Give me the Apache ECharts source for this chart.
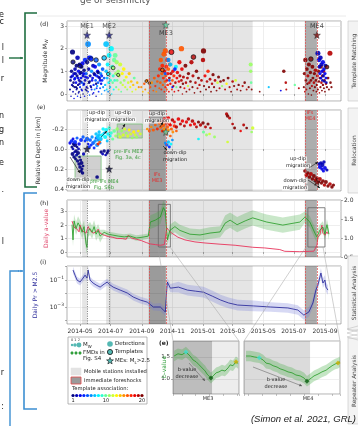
<!DOCTYPE html>
<html><head><meta charset="utf-8">
<script src="https://cdn.jsdelivr.net/npm/echarts@6/dist/echarts.min.js"></script>
<style>html,body{margin:0;padding:0;background:#fff}#c{width:358px;height:426px}</style>
</head><body><div id="c"></div>
<script>
// ---- time axis (days since 2014-01-01) ----
const dayMin = 94, dayMax = 640;
const monthTicks = [120, 181, 243, 304, 365, 424, 485, 546, 608];
const monthLabels = ['2014-05', '2014-07', '2014-09', '2014-11', '2015-01', '2015-03', '2015-05', '2015-07', '2015-09'];

// main events
const meNames = ['ME1', 'ME2', 'ME3', 'ME4'];
const meDays = [134, 178, 291, 592];
const meMags = [2.6, 2.6, 3.05, 2.6];
const meDepths = [0.0, 0.2, -0.17, 0.33];
const meColors = ['#1b1b8a', '#1b1b8a', '#63d9a8', '#7a0a0a'];

// observation windows
const mobileWindows = [[124, 134], [172, 464]];
const foreshockWindows = [[257, 291], [568, 592]];

// ---- detections: [day, magnitude, template] ----
const quakesSpring2014 = [
  [100,0.2,1],[101,0.6,1],[102,-0.1,2],[103,1.0,1],[104,0.4,2],[105,1.85,1],[105,0.8,3],[106,0.1,2],[107,0.5,1],[108,0.9,2],
  [108,-0.2,3],[109,0.3,1],[110,1.1,2],[110,0.7,4],[111,0.0,1],[112,0.5,3],[113,1.25,1],[113,0.2,2],[114,0.8,1],[115,1.6,2],
  [115,-0.1,4],[116,0.4,1],[117,1.0,3],[118,0.6,2],[118,0.1,1],[119,1.3,1],[120,0.3,4],[120,0.9,2],[121,-0.15,1],[122,0.7,3],
  [123,1.2,1],[123,0.2,2],[124,0.5,5],[125,1.35,3],[126,0.0,1],[126,0.8,2],[127,0.4,4],[128,1.05,1],[129,-0.1,3],[130,0.6,2],
  [130,1.5,4],[131,0.2,1],[132,0.9,5],[133,0.3,2],[134,1.4,1],[136,2.2,6],[135,0.7,3],[136,0.1,4],[137,1.1,2],[138,0.5,1],
  [138,1.6,3],[139,-0.05,5],[140,0.8,2],[141,1.6,4],[142,0.3,1],[143,1.0,6],[144,0.6,3],[145,0.0,2],[146,1.25,2],[147,0.4,4],
  [148,0.9,1],[149,0.2,6],[150,1.2,3],[151,0.6,5],[152,-0.1,2],[153,0.8,4],[154,0.35,6],[155,1.0,3],[156,0.5,5],[157,0.1,4],
  [158,1.3,6],[159,0.7,2],[160,0.25,5],[161,0.9,6],[162,0.45,3],[163,0.0,6],[164,0.6,4],[165,1.1,5],[166,0.3,6],[168,0.7,5],
  [169,0.15,6],[112,0.3,1],[117,0.05,2],[121,0.55,1],[127,0.9,3],[133,0.15,1],[141,0.35,2],[147,0.05,3],[152,0.45,1],[157,0.75,2],
  [102,0.75,2],[106,0.35,1],[109,0.65,3],[111,0.9,2],[114,0.25,1],[116,0.7,3],[119,0.45,2],[122,0.95,1],[124,0.15,3],[128,0.45,2],
  [131,0.75,3],[135,0.25,2],[139,0.55,1],[143,0.2,4],[145,0.7,3],[149,0.85,2],[153,0.25,4],[156,0.95,1],[160,0.6,3],[163,0.8,4]
];
const quakesSummer2014 = [
  [170,0.4,7],[172,2.2,7],[172,1.0,7],[173,0.2,8],[174,0.7,7],[175,1.3,8],[176,0.1,6],[177,0.5,8],[178,1.7,8],[179,0.9,9],
  [180,0.3,7],[181,0.6,9],[182,2.0,8],[183,0.0,8],[184,1.2,9],[185,0.5,10],[186,0.8,9],[187,0.2,8],[188,1.5,10],[189,0.6,9],
  [190,1.7,10],[191,0.9,11],[192,0.3,10],[193,1.4,11],[194,0.6,10],[196,1.0,11],[197,0.2,12],[198,0.8,12],[200,1.3,12],[201,0.5,11],
  [202,0.1,10],[204,0.9,13],[205,0.4,12],[207,1.1,13],[208,0.6,11],[210,0.3,12],[212,0.75,13],[214,0.2,11],[216,0.5,12],[218,0.9,14],
  [220,0.3,13],[222,0.55,14],[224,0.1,12],[226,0.4,14],[228,0.7,10],[231,0.2,13],[234,0.5,14],[237,0.3,15]
];
const quakesAutumn2014 = [
  [242,0.3,15],[245,0.1,14],[248,0.45,16],[250,0.2,15],[254,0.6,16],[256,0.05,14],[260,0.3,16],[263,0.5,15],[266,0.15,16],[268,0.7,16],
  [270,0.35,17],[272,0.1,15],[274,0.55,16],[276,0.8,17],[278,0.25,16],[279,1.1,17],[280,0.5,16],[281,1.5,16],[282,0.2,17],[283,0.9,16],
  [284,1.25,17],[285,0.4,16],[286,0.7,17],[287,1.75,16],[288,0.1,17],[288,1.0,18],[289,0.55,16],[290,1.9,16],[290,0.3,17],[291,0.8,16]
];
const quakesWinter = [
  [292,1.2,17],[293,0.6,18],[293,0.2,16],[294,1.5,17],[295,0.9,18],[295,0.4,17],[296,1.1,16],[297,0.1,18],[298,0.7,19],[299,1.3,17],
  [300,0.45,18],[301,0.9,19],[303,0.2,17],[304,0.6,16],[305,1.0,18],[306,0.35,19],[307,0.8,17],[308,0.1,18],[310,0.5,19],[311,1.2,8],
  [312,0.3,10],[313,0.7,18],[314,0.95,18],[316,0.15,19],[317,0.55,18],[318,1.4,18],[319,0.8,19],[320,0.3,20],[322,2.0,16],[322,0.6,19],
  [323,1.1,18],[324,0.0,19],[325,0.45,20],[326,0.75,19],[328,0.25,18],[330,1.25,20],[331,0.5,19],[332,0.1,20],[334,0.7,19],[335,0.35,12],
  [336,0.9,20],[338,0.2,19],[340,0.55,20],[342,1.4,19],[344,0.3,20],[345,0.8,19],[348,0.05,20],[350,0.5,19],[352,1.0,20],[354,0.25,19],
  [356,0.7,20],[358,0.4,19],[360,0.1,20],[362,0.6,19],[366,1.9,20],[365,1.5,19],[367,0.35,20],[369,0.8,18],[371,0.2,20],[373,0.55,19],
  [375,1.0,17],[377,0.3,20],[379,0.65,19],[381,0.1,20],[383,0.45,19],[385,0.85,20],[387,0.3,20],[389,0.6,19],[392,0.15,20],[394,0.5,12],
  [396,0.75,20],[398,0.25,19],[400,0.55,20],[403,0.35,11],[406,0.6,20],[409,0.2,19],[412,0.45,13],[415,0.7,20],[418,0.3,19],[421,0.1,20],
  [424,0.55,19],[427,0.35,20],[430,0.6,12],[433,0.2,19],[436,0.4,20],[440,0.15,20],[444,0.35,19],[448,0.5,20],[452,0.2,19],[456,0.3,20],
  [460,1.3,11],[460,1.0,11],[461,0.5,10],[462,0.2,20],[296,1.5,6],[300,1.3,7],[309,1.1,4],[298,0.6,5],[304,0.3,3],[290,0.9,5]
];
const quakesSpring2015 = [
  [478,0.1,20],[496,0.3,7],[520,0.15,3],[526,1.0,20],[530,0.5,19],[531,0.2,19],[548,0.4,10],[556,0.25,19]
];
const quakesMe4 = [
  [566,0.3,20],[567,0.9,20],[568,0.1,19],[569,1.5,20],[570,0.6,20],[571,0.2,19],[572,1.1,20],[573,0.45,20],[574,0.8,19],[575,0.0,20],
  [576,1.3,20],[577,0.5,19],[578,0.25,20],[579,0.95,20],[580,0.6,20],[581,-0.05,20],[582,0.35,19],[583,1.2,20],[584,0.7,20],[585,0.15,20],
  [586,0.5,19],[587,0.9,20],[588,0.3,20],[589,1.05,19],[590,0.6,20],[591,0.1,20],[592,0.4,20],[593,0.8,19],[594,0.2,20],[595,1.0,20],
  [596,0.55,20],[597,0.05,19],[598,0.7,20],[599,0.3,20],[600,1.2,20],[601,0.5,19],[602,0.15,20],[603,0.8,20],[604,0.4,20],[605,1.0,19],
  [606,0.25,20],[607,0.6,20],[608,0.1,20],[610,0.45,19],[612,0.3,20],[614,0.7,20],[616,0.2,20],[618,1.8,19],[619,0.5,20],[621,0.3,20],
  [594,1.8,2],[596,1.5,3],[597,1.2,2],[598,0.9,3],[599,1.6,2],[600,0.7,3],[601,1.3,2],[602,1.0,3],[603,0.6,2],[604,1.4,3],
  [605,0.8,2],[606,1.1,3],[607,0.55,2],[608,0.9,3],[609,1.25,2],[610,0.7,3],[611,0.5,2]
];
const templateEvents = [
  [106,1.41,1],[120,1.23,2],[142,1.54,4],[152,1.5,5],[168,1.59,7],[176,0.88,8],[186,1.15,11],[196,0.84,11],
  [252,0.57,15],[258,0.48,15],[284,1.06,16],[302,1.85,18],[346,1.63,19],[580,1.54,20],[612,1.19,20]
];

// ---- relocated events: [day, relative depth km, template, magnitude] ----
const depthEarly = [
  [104,-0.02,1,0.8],[105,0.05,1,1.2],[106,0.0,2,0.6],[107,-0.05,1,0.9],[108,0.08,1,1.0],[109,0.03,2,0.5],[110,-0.04,1,1.4],[111,0.1,1,0.7],
  [112,0.02,1,1.1],[113,0.06,2,0.8],[114,-0.02,1,0.6],[115,0.12,1,0.9],[116,0.04,1,1.3],[117,0.0,2,0.7],[118,0.15,1,1.0],[119,0.08,1,0.6],
  [120,0.18,1,1.1],[121,0.11,1,0.8],[122,0.22,1,0.9],[123,0.14,1,1.2],[124,0.2,1,0.7],[125,0.24,1,1.0],[126,0.17,1,0.6],[127,0.05,2,0.9],
  [100,-0.06,3,0.9],[103,-0.08,4,1.1],[106,-0.1,3,0.7],[110,-0.07,4,1.3],[114,-0.11,5,0.8],[118,-0.05,3,1.0],[122,-0.09,4,1.2],[126,-0.12,5,0.9],
  [130,-0.08,4,0.7],[134,-0.1,5,1.4],[136,-0.05,3,0.6],[138,-0.02,4,1.0],[140,-0.09,5,1.1],[142,-0.04,4,0.8],[144,-0.12,6,0.9],[146,-0.06,5,1.2],
  [148,-0.01,4,0.7],[150,-0.08,6,1.0],[152,-0.11,5,0.8],[154,-0.04,6,1.3],[156,-0.09,6,0.9],[158,-0.14,7,1.1],[160,-0.06,6,0.7],
  [162,0.03,1,0.9],[165,0.05,2,0.7],[168,0.02,1,1.0],[171,0.06,2,0.6],[174,0.04,1,0.8],[176,0.02,1,0.9],[154,0.28,1,1.1]
];
const depthSummer = [
  [152,-0.15,7,1.0],[155,-0.12,7,1.2],[158,-0.17,7,0.9],[161,-0.1,7,1.4],[164,-0.14,8,1.1],[166,-0.2,8,1.0],[168,-0.16,7,0.8],[170,-0.12,8,1.3],
  [172,-0.19,8,1.2],[174,-0.08,7,0.7],[176,-0.15,8,1.0],[178,-0.21,9,0.9],[180,-0.13,8,0.8],[182,-0.16,9,0.9],[185,-0.1,10,0.8],[188,-0.18,10,1.1],
  [191,-0.13,11,0.7],[194,-0.2,11,1.0],[197,-0.15,11,0.8],[200,-0.12,12,0.9],[203,-0.18,11,0.7],[206,-0.14,12,1.0],[209,-0.2,12,0.8],[212,-0.16,11,0.6],
  [215,-0.13,12,0.9],[218,-0.19,13,0.7],[221,-0.15,12,0.8],[224,-0.11,11,0.6],[227,-0.17,13,0.9],[230,-0.14,12,0.7],[233,-0.12,11,0.8],[236,-0.18,13,0.6],
  [240,-0.15,12,0.7],[156,-0.05,17,0.8],[159,-0.07,16,0.6]
];
const depthAutumn = [
  [254,-0.2,15,0.6],[258,-0.18,16,0.7],[262,-0.22,15,0.5],[266,-0.19,16,0.8],[270,-0.24,16,0.6],[274,-0.2,17,0.7],[278,-0.26,16,0.9],[281,-0.22,16,1.0],
  [284,-0.18,17,0.8],[286,-0.24,16,1.2],[288,-0.2,15,0.9],[290,-0.27,16,1.1],[292,-0.16,17,0.8],[294,-0.22,16,1.0],[296,-0.19,15,0.7],[298,-0.25,17,0.9],
  [300,-0.13,16,0.6],[302,-0.2,16,0.8],[305,-0.17,15,0.7],[308,-0.23,17,0.9],[312,-0.18,16,0.6],
  [290,-0.06,6,0.8],[293,-0.04,5,1.0],[296,-0.07,7,0.9],[298,-0.02,4,0.7],[301,-0.05,8,0.8],[304,-0.09,6,0.6],
  [284,-0.28,18,0.8],[288,-0.3,18,1.0],[292,-0.26,19,0.9],[296,-0.31,18,1.1],[300,-0.24,18,0.8],[304,-0.29,19,1.0],[308,-0.27,18,0.7],[312,-0.22,19,0.9],
  [316,-0.3,18,1.1],[320,-0.25,19,0.8],[324,-0.28,18,1.0],[328,-0.23,19,0.7],[332,-0.27,18,0.9],[336,-0.3,19,1.0],[340,-0.24,18,0.8],[344,-0.28,19,1.1],
  [348,-0.25,18,0.9],[352,-0.22,19,0.7],[356,-0.27,20,0.8],[360,-0.24,19,0.9],[365,-0.26,20,1.0],[370,-0.22,19,0.7],[375,-0.25,20,0.8],[380,-0.21,19,0.6],
  [412,-0.35,19,0.9],[414,-0.33,20,1.0],[418,-0.31,19,0.8],[424,-0.25,19,0.6],[428,-0.21,20,0.7],[446,-0.24,19,0.7],[452,-0.21,20,0.6],[440,-0.18,18,0.5],
  [366,-0.17,10,0.8],[372,-0.14,11,0.7],[378,-0.15,12,0.6],[388,-0.12,11,0.7],[356,-0.1,8,0.6],[414,-0.07,12,0.6],[464,-0.21,12,1.0],[462,-0.17,11,0.6]
];
const depthMe4 = [
  [568,0.22,20,1.0],[571,0.26,19,1.2],[574,0.24,20,0.9],[577,0.28,20,1.1],[580,0.25,19,1.3],[583,0.3,20,1.0],[586,0.27,20,1.2],[589,0.31,19,0.9],
  [592,0.29,20,1.1],[595,0.33,20,1.0],[598,0.3,19,1.2],[601,0.34,20,0.9],[604,0.32,20,1.1],[607,0.36,19,1.0],[610,0.33,20,1.2],[614,0.37,20,0.9],
  [618,0.35,19,1.1],[622,0.38,20,1.0],[625,0.36,20,0.8],
  [596,0.15,2,1.0],[598,0.18,3,1.3],[600,0.14,2,1.1],[602,0.2,3,0.9],[603,0.16,2,1.4],[605,0.22,3,0.8],[606,0.13,2,1.0],[608,0.19,3,1.2],[612,0.21,2,0.8]
];

// ---- daily a-value ----
const aDays = [104,108,114,118,120,124,128,132,136,140,146,152,156,160,168,176,184,194,204,212,216,222,232,242,252,260,270,280,288,291,293,297,303,315,329,349,369,399,429,464,488,518,528,558,578,586,592,594,598,602,604,608,612,614];
const aValues = [2.3,1.85,1.7,1.5,2.0,1.6,1.5,1.4,1.9,1.6,1.4,1.5,1.7,1.4,1.25,1.15,1.1,1.0,1.0,0.95,1.25,1.05,0.95,0.85,0.7,0.6,0.55,0.5,0.55,0.6,1.8,1.6,1.4,1.1,0.9,0.75,0.67,0.58,0.5,0.35,0.3,0.18,0.05,0.02,0.05,0.06,0.5,1.1,1.3,2.0,1.4,1.25,1.5,1.35];

// ---- b-value with uncertainty ----
const bDays = [104,106,108,112,116,120,124,128,132,134,136,140,144,148,152,156,160,168,176,184,196,208,220,232,244,256,260,270,280,286,290,294,299,309,319,339,359,379,399,409,419,433,449,464,492,524,558,568,578,588,592,598,604,608,612,616];
const bValues = [1.35,0.95,1.45,1.25,1.4,1.3,1.15,1.3,0.85,0.75,1.2,1.25,1.15,1.3,1.1,1.2,1.05,1.15,1.1,1.08,1.05,1.03,1.05,1.0,1.02,1.05,1.42,1.47,1.55,1.8,1.7,0.95,1.2,1.3,1.2,1.1,1.08,1.13,1.16,1.39,1.47,1.35,1.45,1.53,1.42,1.34,1.42,1.55,1.42,1.13,1.03,1.21,1.29,1.1,1.35,1.1];
const bUncert = [0.17,0.17,0.17,0.17,0.17,0.17,0.17,0.17,0.17,0.17,0.17,0.17,0.17,0.17,0.17,0.17,0.17,
  0.07,0.07,0.07,0.07,0.07,0.07,0.07,0.07,0.07, 0.18,0.18,0.18,0.18,0.18,
  0.15,0.15,0.15,0.15,0.15,0.15,0.15,0.15, 0.2,0.2,0.2,0.2,0.2,0.2,0.2,0.2,
  0.15,0.15,0.15,0.15,0.15,0.15,0.15,0.15,0.15];

// ---- daily probability of M > 2.5 (uncertainty in decades) ----
const prDays = [106,110,114,120,126,130,134,136,140,146,152,160,168,174,180,186,200,214,226,240,254,266,280,286,290,292,294,300,316,334,350,366,384,400,416,434,466,500,534,554,566,576,584,590,594,600,604,608,610,614];
const prValues = [0.55,0.23,0.1,0.071,0.14,0.23,0.14,0.55,0.1,0.06,0.043,0.03,0.05,0.071,0.043,0.03,0.018,0.011,0.0055,0.0033,0.0023,0.001,0.001,0.0006,0.00043,0.008,0.071,0.025,0.03,0.018,0.015,0.0126,0.0063,0.0033,0.002,0.0014,0.0012,0.001,0.00085,0.0006,0.00025,0.00043,0.002,0.018,0.043,0.33,0.06,0.1,0.03,0.018];
const prUncert = [0.25,0.25,0.25,0.25,0.25,0.25,0.25,0.25,0.25,0.25,0.25,0.25,0.25,0.25,0.25,0.25,0.25,0.25,0.25,0.25,0.25,0.25,
  0.3,0.3,0.3,0.3,0.3,0.3, 0.4,0.4,0.4,0.4,0.4,0.4,0.4,0.4,0.4,
  0.35,0.35,0.35,0.35,0.35,0.35,0.35,0.35,0.35,0.35,0.35,0.35,0.35];

// ---- b-value close-ups before ME3 and ME4 ----
const me3Days = [277.2,278.6,280.1,281.5,283,284.1,285.2,286.3,287.4,288.5,289.2,289.9,290.6,291.4,292.5,293.5,294.6,295.7,296.8,297.6,298.6,299.7,300.5];
const me3B = [1.52,1.57,1.55,1.61,1.52,1.43,1.39,1.32,1.25,1.18,1.11,1.07,1.02,1.07,1.14,1.16,1.2,1.18,1.25,1.32,1.3,1.39,1.35];
const me4Days = [569.3,570.8,572.2,574,575.4,576.4,577.8,578.9,580.3,581.4,582.8,584.2,585.6,587,588.5,589.9,590.9,592.4,593.4,594.8,596.2,597.7,598.7,599.8,600.9,601.9,602.6];
const me4B = [1.52,1.52,1.5,1.48,1.43,1.36,1.34,1.3,1.27,1.23,1.2,1.16,1.14,1.09,1.07,1.02,0.95,1.02,1.07,1.11,1.16,1.2,1.25,1.3,1.34,1.36,1.39];
const closeupBand = 0.12;
const fmdMarks3 = [[281.5,1.61,'#3fe0d0'],[290.6,1.02,'#0b5e12'],[299.7,1.39,'#c9b000']];
const fmdMarks4 = [[574,1.48,'#3fe0d0'],[590.9,0.95,'#0b5e12'],[601.9,1.36,'#c9b000']];

// ---------------------------------------------------------------------------
const FONT = 'DejaVu Sans';
const STAR = 'path://M0,-10L2.35,-3.24L9.51,-3.09L3.8,1.24L5.88,8.09L0,4L-5.88,8.09L-3.8,1.24L-9.51,-3.09L-2.35,-3.24Z';
function jet(k) {
  const t = (k - 1) / 19;
  const c = v => Math.round(255 * Math.max(0, Math.min(1, v)));
  return `rgb(${c(1.5 - Math.abs(4 * t - 3))},${c(1.5 - Math.abs(4 * t - 2))},${c(1.5 - Math.abs(4 * t - 1))})`;
}
const magSize = m => 1.6 + 1.9 * Math.max(m, 0);

const chart = echarts.init(document.getElementById('c'), null, { width: 358, height: 426 });

const gridBox = (left, top, width, height) => ({ left, top, width, height, show: true, backgroundColor: '#fff', borderColor: '#8f8f8f', borderWidth: 0.7, outerBoundsMode: 'none', containLabel: false });
const grids = [
  gridBox(67, 21, 274, 80),   // (d)
  gridBox(67, 110, 274, 81),  // (e)
  gridBox(67, 200, 274, 57),  // (h)
  gridBox(67, 266, 274, 58),  // (i)
  gridBox(173, 341, 66, 53),  // ME3 close-up
  gridBox(244, 341, 96, 53)   // ME4 close-up
];

function timeAxis(gridIndex, showLabels) {
  return {
    type: 'value', gridIndex, min: dayMin, max: dayMax,
    axisLine: { show: false },
    axisTick: { show: true, customValues: monthTicks, length: 2, lineStyle: { color: '#777', width: 0.6 } },
    axisLabel: { show: showLabels, customValues: monthTicks, formatter: v => monthLabels[monthTicks.indexOf(v)] || '', fontSize: 6, color: '#333', margin: 4, fontFamily: FONT },
    splitLine: { show: true, lineStyle: { color: '#e3e3e3', width: 0.6 } }
  };
}
const labelStyle = { fontSize: 6, color: '#333', fontFamily: FONT, margin: 3, showMinLabel: false, showMaxLabel: false };
const tickStyle = { show: true, length: 2, lineStyle: { color: '#777', width: 0.6 } };
const splitStyle = { show: true, lineStyle: { color: '#e3e3e3', width: 0.6 } };

const xAxes = [
  timeAxis(0, false), timeAxis(1, false), timeAxis(2, false), timeAxis(3, true),
  { type: 'value', gridIndex: 4, min: 276.8, max: 300.8, axisLine: { show: false }, axisLabel: { show: false }, axisTick: { show: true, length: 2, lineStyle: { color: '#888', width: 0.5 } }, splitLine: { show: false } },
  { type: 'value', gridIndex: 5, min: 568.6, max: 602.6, axisLine: { show: false }, axisLabel: { show: false }, axisTick: { show: true, length: 2, lineStyle: { color: '#888', width: 0.5 } }, splitLine: { show: false } }
];
const yAxes = [
  { type: 'value', gridIndex: 0, min: -0.31, max: 3.22, splitNumber: 4, axisLine: { show: false }, axisTick: tickStyle, splitLine: splitStyle,
    axisLabel: labelStyle, name: 'Magnitude M{s|W}', nameLocation: 'middle', nameGap: 10,
    nameTextStyle: { fontSize: 6, color: '#333', fontFamily: FONT, rich: { s: { fontSize: 4.5, verticalAlign: 'bottom', color: '#333', fontFamily: FONT, padding: [3, 0, 0, 0] } } } },
  { type: 'value', gridIndex: 1, min: -0.39, max: 0.42, inverse: true, splitNumber: 4, axisLine: { show: false }, axisTick: tickStyle, splitLine: splitStyle,
    axisLabel: Object.assign({}, labelStyle, { formatter: v => v.toFixed(1) }), name: 'Relative Depth in [km]', nameLocation: 'middle', nameGap: 19,
    nameTextStyle: { fontSize: 6, color: '#333', fontFamily: FONT } },
  { type: 'value', gridIndex: 2, min: -0.375, max: 3.875, splitNumber: 4, axisLine: { show: false }, axisTick: tickStyle, splitLine: splitStyle,
    axisLabel: labelStyle, name: 'Daily a-value', nameLocation: 'middle', nameGap: 10,
    nameTextStyle: { fontSize: 6, color: '#e0456a', fontFamily: FONT } },
  { type: 'value', gridIndex: 2, position: 'right', min: 0.5, max: 2.0, splitNumber: 3, axisLine: { show: false }, axisTick: tickStyle, splitLine: { show: false },
    axisLabel: { fontSize: 6, color: '#333', fontFamily: FONT, margin: 3, formatter: v => v.toFixed(1) }, name: 'b-value', nameLocation: 'middle', nameGap: 12,
    nameTextStyle: { fontSize: 6, color: '#2f9e3a', fontFamily: FONT } },
  { type: 'log', gridIndex: 3, min: 5.5e-5, max: 1.1, logBase: 10, axisLine: { show: false }, axisTick: tickStyle, splitLine: splitStyle,
    axisLabel: { fontSize: 6, color: '#333', fontFamily: FONT, margin: 3, showMinLabel: false, showMaxLabel: false,
      formatter: v => { const e = Math.round(Math.log10(v)); return (e === -1 || e === -3) ? '10{e|−' + (-e) + '}' : ''; },
      rich: { e: { fontSize: 4.5, verticalAlign: 'top', color: '#333', padding: [0, 0, 4, 0] } } },
    name: 'Daily Pr > M2.5', nameLocation: 'middle', nameGap: 20,
    nameTextStyle: { fontSize: 6, color: '#2a2a9a', fontFamily: FONT } },
  { type: 'value', gridIndex: 4, min: 0.66, max: 1.86, splitNumber: 2, axisLine: { show: false }, axisTick: tickStyle, splitLine: { show: true, lineStyle: { color: '#d6d6d6', width: 0.5 } },
    axisLabel: Object.assign({}, labelStyle, { fontSize: 5.5, formatter: v => v.toFixed(1) }) },
  { type: 'value', gridIndex: 5, min: 0.66, max: 1.86, splitNumber: 2, axisLine: { show: false }, axisTick: { show: false }, splitLine: { show: true, lineStyle: { color: '#e0e0e0', width: 0.5 } },
    axisLabel: { show: false } }
];

// background windows and event markers for each time panel
function windowsSeries(i, yi) {
  const areas = [];
  mobileWindows.forEach(w => areas.push([{ xAxis: w[0], itemStyle: { color: 'rgba(0,0,0,0.10)' } }, { xAxis: w[1] }]));
  foreshockWindows.forEach(w => areas.push([{ xAxis: w[0], itemStyle: { color: 'rgba(0,0,0,0.32)' } }, { xAxis: w[1] }]));
  const lines = [];
  [meDays[0], meDays[1]].forEach(d => lines.push({ xAxis: d, lineStyle: { color: '#6f6f6f', type: [1.2, 1.2], width: 0.8 } }));
  foreshockWindows.forEach(w => w.forEach(d => lines.push({ xAxis: d, lineStyle: { color: '#e34a4a', type: [2, 1], width: 0.7 } })));
  return {
    type: 'line', xAxisIndex: i, yAxisIndex: yi, data: [], silent: true, z: 1,
    markArea: { silent: true, data: areas },
    markLine: { silent: true, symbol: ['none', 'none'], label: { show: false }, data: lines, animation: false }
  };
}

function quakeScatter(xi, yi, rows, sizeIdx, extra) {
  return Object.assign({
    type: 'scatter', xAxisIndex: xi, yAxisIndex: yi, data: rows,
    symbolSize: v => magSize(v[sizeIdx]),
    itemStyle: { color: p => jet(p.value[2]), opacity: 0.9 },
    animation: false, z: 3
  }, extra || {});
}

function band(xi, yi, xs, lo, hi, fill) {
  return {
    type: 'custom', xAxisIndex: xi, yAxisIndex: yi, silent: true, z: 2, clip: true, animation: false,
    data: [[xs[0], lo[0]]],
    renderItem: (p, api) => {
      const pts = [];
      xs.forEach((x, i) => pts.push(api.coord([x, lo[i]])));
      for (let i = xs.length - 1; i >= 0; i--) pts.push(api.coord([xs[i], hi[i]]));
      return { type: 'polygon', shape: { points: pts }, style: { fill } };
    }
  };
}
const pairs = (xs, ys) => xs.map((x, i) => [x, ys[i]]);
const lineSeries = (xi, yi, data, color, w) => ({ type: 'line', xAxisIndex: xi, yAxisIndex: yi, data, symbol: 'none', lineStyle: { color, width: w || 0.8 }, animation: false, z: 4 });

const series = [
  windowsSeries(0, 0), windowsSeries(1, 1), windowsSeries(2, 2), windowsSeries(3, 4),
  // (d) detections
  quakeScatter(0, 0, [].concat(quakesSpring2014, quakesSummer2014, quakesAutumn2014, quakesWinter, quakesSpring2015, quakesMe4), 1),
  quakeScatter(0, 0, templateEvents, 1, { itemStyle: { color: p => jet(p.value[2]), borderColor: '#111', borderWidth: 0.9 }, z: 4 }),
  { type: 'scatter', xAxisIndex: 0, yAxisIndex: 0, z: 5, symbol: STAR, symbolSize: 7, animation: false,
    data: meDays.map((d, i) => ({ value: [d, meMags[i]], itemStyle: { color: meColors[i], borderColor: '#222', borderWidth: 0.5 },
      label: { show: true, formatter: meNames[i], position: i === 2 ? 'bottom' : 'top', distance: 1, fontSize: 6.5, color: '#222', fontFamily: FONT } })) },
  // (e) relocations
  {
    type: 'line', xAxisIndex: 1, yAxisIndex: 1, data: [], silent: true, z: 1,
    markArea: { silent: true, data: [
      [{ xAxis: 194, yAxis: -0.25, itemStyle: { color: 'rgba(150,150,150,0.45)', borderColor: '#7cc47c', borderWidth: 0.8 } }, { xAxis: 244, yAxis: -0.11 }],
      [{ xAxis: 110, yAxis: 0.07, itemStyle: { color: 'rgba(150,150,150,0.45)', borderColor: '#7cc47c', borderWidth: 0.8 } }, { xAxis: 162, yAxis: 0.31 }]
    ] }
  },
  quakeScatter(1, 1, [].concat(depthEarly, depthSummer, depthAutumn, depthMe4), 3),
  { type: 'scatter', xAxisIndex: 1, yAxisIndex: 1, z: 5, symbol: STAR, symbolSize: 7, animation: false,
    data: meDays.map((d, i) => ({ value: [d, meDepths[i]], itemStyle: { color: i < 2 ? '#101040' : meColors[i], borderColor: '#111', borderWidth: 0.5 } })) },
  // (h) a-value and b-value
  band(2, 3, bDays, bValues.map((b, i) => b - bUncert[i]), bValues.map((b, i) => b + bUncert[i]), 'rgba(60,170,60,0.28)'),
  lineSeries(2, 2, pairs(aDays, aValues), '#e8335a', 0.9),
  lineSeries(2, 3, pairs(bDays, bValues), '#229a22', 0.8),
  {
    type: 'line', xAxisIndex: 2, yAxisIndex: 2, data: [], silent: true, z: 6,
    markArea: { silent: true, data: [
      [{ xAxis: 276, yAxis: 3.55, itemStyle: { color: 'rgba(0,0,0,0)', borderColor: '#666', borderWidth: 0.8 } }, { xAxis: 300, yAxis: 0.37 }],
      [{ xAxis: 574, yAxis: 3.3, itemStyle: { color: 'rgba(0,0,0,0)', borderColor: '#666', borderWidth: 0.8 } }, { xAxis: 608, yAxis: 0.37 }]
    ] }
  },
  // (i) probability
  band(3, 4, prDays, prValues.map((v, i) => v * Math.pow(10, -prUncert[i])), prValues.map((v, i) => v * Math.pow(10, prUncert[i])), 'rgba(110,120,215,0.28)'),
  lineSeries(3, 4, pairs(prDays, prValues), '#1d1d96', 0.8),
  // close-ups
  {
    type: 'line', xAxisIndex: 4, yAxisIndex: 5, data: [], silent: true, z: 1,
    markArea: { silent: true, data: [
      [{ xAxis: 276.8, itemStyle: { color: 'rgba(0,0,0,0.26)' } }, { xAxis: meDays[2] }],
      [{ xAxis: meDays[2], itemStyle: { color: 'rgba(0,0,0,0.07)' } }, { xAxis: 300.8 }]
    ] }
  },
  {
    type: 'line', xAxisIndex: 5, yAxisIndex: 6, data: [], silent: true, z: 1,
    markArea: { silent: true, data: [[{ xAxis: 568.6, itemStyle: { color: 'rgba(0,0,0,0.14)' } }, { xAxis: meDays[3] }]] }
  },
  band(4, 5, me3Days, me3B.map(b => b - closeupBand), me3B.map(b => b + closeupBand), 'rgba(60,170,60,0.3)'),
  lineSeries(4, 5, pairs(me3Days, me3B), '#229a22', 0.8),
  band(5, 6, me4Days, me4B.map(b => b - closeupBand), me4B.map(b => b + closeupBand), 'rgba(60,170,60,0.3)'),
  lineSeries(5, 6, pairs(me4Days, me4B), '#229a22', 0.8),
  { type: 'scatter', xAxisIndex: 4, yAxisIndex: 5, symbol: 'diamond', symbolSize: 5, z: 6, animation: false,
    data: fmdMarks3.map(m => ({ value: [m[0], m[1]], itemStyle: { color: m[2] } })) },
  { type: 'scatter', xAxisIndex: 5, yAxisIndex: 6, symbol: 'diamond', symbolSize: 5, z: 6, animation: false,
    data: fmdMarks4.map(m => ({ value: [m[0], m[1]], itemStyle: { color: m[2] } })) }
];

// ---- page annotations ----
const g = [];
function txt(x, y, text, size, fill, o) {
  o = o || {};
  const style = { text, fontSize: size, fontFamily: o.family || FONT, fill, align: o.align || 'center', verticalAlign: o.valign || 'middle',
    fontStyle: o.italic ? 'italic' : 'normal', fontWeight: o.bold ? 'bold' : 'normal' };
  if (o.bg) { style.backgroundColor = o.bg; style.padding = [0, 1]; }
  if (o.rich) style.rich = o.rich;
  g.push({ type: 'text', x, y, rotation: o.rot || 0, silent: true, z: 100, style });
}
function pline(points, stroke, w, dash) {
  g.push({ type: 'polyline', silent: true, z: 100, shape: { points }, style: { stroke, lineWidth: w, lineDash: dash || null, fill: null } });
}
function rect(x, y, w, h, fill, stroke, lw) {
  g.push({ type: 'rect', silent: true, z: 95, shape: { x, y, width: w, height: h }, style: { fill, stroke, lineWidth: lw || 0.6 } });
}
function poly(points, fill, stroke) {
  g.push({ type: 'polygon', silent: true, z: 100, shape: { points }, style: { fill, stroke: stroke || null, lineWidth: 0.6 } });
}
function dot(cx, cy, r, fill, stroke) {
  g.push({ type: 'circle', silent: true, z: 100, shape: { cx, cy, r }, style: { fill, stroke: stroke || null, lineWidth: 0.8 } });
}
function arrow(x1, y1, x2, y2, color, w) {
  pline([[x1, y1], [x2, y2]], color, w);
  const a = Math.atan2(y2 - y1, x2 - x1), L = 3;
  poly([[x2, y2], [x2 - L * Math.cos(a - 0.45), y2 - L * Math.sin(a - 0.45)], [x2 - L * Math.cos(a + 0.45), y2 - L * Math.sin(a + 0.45)]], color);
}
function starShape(cx, cy, r) {
  const pts = [];
  for (let i = 0; i < 10; i++) {
    const rr = i % 2 ? r * 0.42 : r, a = -Math.PI / 2 + i * Math.PI / 5;
    pts.push([cx + rr * Math.cos(a), cy + rr * Math.sin(a)]);
  }
  return pts;
}
const subRich = { s: { fontSize: 4, fontFamily: FONT, fill: '#222', verticalAlign: 'bottom', padding: [3, 0, 0, 0] } };

// slide text running off the left edge and the top
txt(80, 0.5, 'ge of seismicity', 9, '#555', { align: 'left', valign: 'middle' });
[[15, 'e'], [22, 'c'], [48, 'l'], [61, 'l'], [79, 'r'], [116, 'n'], [130, 'g'], [143, 'n'], [163, 'e'], [190, '.'], [242, 'l'], [373, 'r'], [407, ':']]
  .forEach(c => txt(4, c[0], c[1], 8, '#222', { align: 'right' }));

// brackets linking the workflow to the panels
pline([[37, 13], [25, 13], [25, 187], [37, 187]], '#1e6e40', 1.6);
arrow(9, 58, 23, 58, '#1e6e40', 1.4);
pline([[37, 193], [24, 193], [24, 409], [37, 409]], '#3c8fd2', 1.6);
pline([[10, 426], [10, 271], [19, 271]], '#3c8fd2', 1.4);
arrow(18, 271, 23, 271, '#3c8fd2', 1.4);

// figure frame top
pline([[37, 16], [346, 16]], '#e4e4e4', 0.8);

// panel letters
txt(40, 24, '(d)', 6, '#222', { align: 'left' });
txt(37, 107, '(e)', 6, '#222', { align: 'left' });
txt(40, 203, '(h)', 6, '#222', { align: 'left' });
txt(40, 262, '(i)', 6, '#222', { align: 'left' });

// workflow tabs on the right
[[21, 101, 'Template Matching'], [108, 193, 'Relocation'], [256, 330, 'Statistical Analysis'], [338, 424, 'Repeater Analysis']].forEach(t => {
  rect(348, t[0], 14, t[1] - t[0], '#f3f3f3', '#c4c4c4', 0.6);
  txt(354.5, (t[0] + t[1]) / 2, t[2], 5.8, '#444', { rot: Math.PI / 2 });
});
[326, 330, 334].forEach(y => pline([[358, y], [347, y + 3], [358, y + 6]], '#c0c0c0', 0.6));

// (e) annotations
const note = 'rgba(255,255,255,0.75)';
txt(97, 113, 'up-dip', 5, '#222', { bg: note });
txt(97, 120, 'migration', 5, '#222', { bg: note });
txt(123, 113, 'up-dip', 5, '#222', { bg: note });
txt(123, 120, 'migration', 5, '#222', { bg: note });
txt(157, 114, 'up-dip', 5, '#222', { bg: note });
txt(157, 121, 'migration', 5, '#222', { bg: note });
arrow(101, 137, 107, 131, '#111', 0.6);
arrow(122, 129, 125, 124, '#111', 0.6);
arrow(160, 127, 163, 122, '#111', 0.6);
txt(128, 152, 'pre-IFs ME3', 5, '#3a9a3a');
txt(128, 158, 'Fig. 3a, 4c', 5, '#3a9a3a');
txt(104, 182, 'pre-IFs ME4', 5, '#3a9a3a');
txt(104, 188, 'Fig. S6b', 5, '#3a9a3a');
arrow(70, 157, 80, 173, '#111', 0.6);
txt(78, 180, 'down-dip', 5, '#222', { bg: note });
txt(78, 187, 'migration', 5, '#222', { bg: note });
txt(157, 175, 'IFs', 5, '#e03030');
txt(157, 181, 'ME3', 5, '#e03030');
arrow(163, 146, 167, 150, '#111', 0.6);
txt(175, 153, 'down-dip', 5, '#222');
txt(175, 160, 'migration', 5, '#222');
txt(310, 113, 'IFs', 5, '#e03030');
txt(310, 119, 'ME4', 5, '#e03030');
txt(298, 159, 'up-dip', 5, '#222', { bg: note });
txt(298, 166, 'migration', 5, '#222', { bg: note });
arrow(309, 168, 318, 162, '#111', 0.6);
txt(295, 181, 'down-dip', 5, '#222', { bg: note });
txt(295, 188, 'migration', 5, '#222', { bg: note });
arrow(308, 180, 320, 188, '#111', 0.6);

// connectors from the (h) boxes to the close-ups
pline([[158, 247], [173, 341]], '#a0a0a0', 0.5);
pline([[170, 247], [239, 341]], '#a0a0a0', 0.5);
pline([[306, 247], [244, 341]], '#a0a0a0', 0.5);
pline([[323, 247], [340, 341]], '#a0a0a0', 0.5);

// close-up labels
txt(159, 343, '(e)', 6, '#222', { align: 'left', bold: true });
txt(164, 367, 'b-value', 6, '#2f9e3a', { rot: Math.PI / 2 });
txt(187, 370, 'b-value', 5, '#222');
txt(187, 377, 'decrease', 5, '#222');
arrow(189, 363, 205, 381, '#555', 0.5);
txt(276, 380, 'b-value', 5, '#222');
txt(276, 387, 'decrease', 5, '#222');
arrow(253, 367, 302, 386, '#555', 0.5);
txt(208, 399, 'ME3', 5, '#333');
txt(308, 399, 'ME4', 5, '#333');

// legend
rect(68, 337, 79, 67, '#fff', '#9a9a9a', 0.7);
txt(71, 340, '0 1 2', 3.5, '#333', { align: 'left' });
dot(72, 345, 1.2, '#54b8b3'); dot(75, 345, 1.8, '#54b8b3'); dot(79, 345, 2.4, '#54b8b3');
txt(83, 345, 'M{s|W}', 5.5, '#222', { align: 'left', rich: subRich });
poly([[72, 351], [73.8, 353], [72, 355], [70.2, 353]], '#2f9e3a');
poly([[76, 351], [77.8, 353], [76, 355], [74.2, 353]], '#2f9e3a');
poly([[80, 351], [81.8, 353], [80, 355], [78.2, 353]], '#2f9e3a');
txt(83, 353, 'FMDs in', 5.5, '#222', { align: 'left' });
txt(83, 359, 'Fig. S4', 5.5, '#222', { align: 'left' });
dot(110, 344, 2.8, '#54b8b3');
txt(115, 344, 'Detections', 5.5, '#222', { align: 'left' });
dot(110, 352, 2.6, '#54b8b3', '#111');
txt(115, 352, 'Templates', 5.5, '#222', { align: 'left' });
poly(starShape(110, 361, 3.6), '#54b8b3', '#111');
txt(115, 361, 'MEs: M{s|L}>2.5', 5.5, '#222', { align: 'left', rich: subRich });
rect(71, 368, 10, 7, '#e3e3e3', '#e3e3e3', 0.5);
txt(84, 372, 'Mobile stations installed', 5.2, '#222', { align: 'left' });
rect(71, 377, 10, 7, '#9a9a9a', '#e34a4a', 0.8);
txt(84, 381, 'Immediate foreshocks', 5.2, '#222', { align: 'left' });
txt(72, 389, 'Template association:', 5.2, '#222', { align: 'left' });
for (let k = 1; k <= 20; k++) dot(73 + (k - 1) * 3.63, 395.5, 1.6, jet(k));
txt(73, 401, '1', 5, '#222');
txt(106, 401, '10', 5, '#222');
txt(142, 401, '20', 5, '#222');

// citation
txt(356, 419, '(Simon et al. 2021, GRL)', 9.5, '#222', { align: 'right', italic: true, family: 'Liberation Sans' });

chart.setOption({
  animation: false,
  backgroundColor: '#fff',
  textStyle: { fontFamily: FONT },
  grid: grids,
  xAxis: xAxes,
  yAxis: yAxes,
  series,
  graphic: { elements: g }
});
</script>
</body></html>
